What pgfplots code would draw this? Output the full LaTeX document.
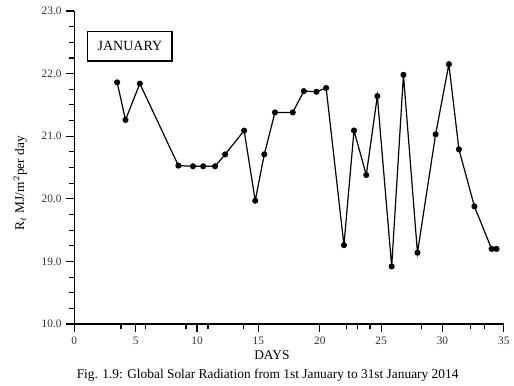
\documentclass[border=0pt]{standalone}
\usepackage{fontspec}
\setmainfont{Liberation Serif}
\usepackage{pgfplots}
\pgfplotsset{compat=1.18}
\begin{document}
\begin{tikzpicture}
\begin{axis}[
  scale only axis, width=321pt, height=234pt,
  xmin=0, xmax=35, ymin=18, ymax=23,
  axis lines=left, axis line style={-, line width=1pt},
  clip=false,
  xtick={0,5,...,35},
  ytick={18,19,20,21,22,23},
  yticklabels={10.0,19.0,20.0,21.0,22.0,23.0},
  minor xtick={3.8,5.8,9.1,10.9,13.8,22.2,23.1,24.1,28.3,32.3,33.4},
  minor y tick num=3,
  tick align=outside,
  major tick length=6pt, minor tick length=4pt,
  tick style={black, line width=0.9pt},
  /pgf/number format/assume math mode=true,
  ticklabel style={font=\fontsize{8.5}{10}\selectfont, color=black!80},
  xlabel={DAYS},
  xlabel style={font=\fontsize{10}{12}\selectfont, at={(ticklabel cs:0.46)}, yshift=2pt},
  ylabel={R$_t$ MJ/m$^2$per day},
  ylabel style={font=\fontsize{10}{12}\selectfont, at={(axis description cs:-0.126,0.45)}, anchor=center},
]
\addplot[black, line width=0.9pt, mark=*, mark size=1.8pt, mark options={fill=black}] coordinates {
(3.49,21.86) (4.17,21.26) (5.34,21.84) (8.48,20.53) (9.67,20.52) (10.5,20.52)
(11.47,20.52) (12.29,20.71) (13.84,21.09) (14.74,19.97) (15.48,20.71) (16.35,21.38)
(17.8,21.38) (18.7,21.72) (19.73,21.71) (20.52,21.77) (21.97,19.26) (22.79,21.09)
(23.79,20.38) (24.69,21.64) (25.86,18.92) (26.82,21.98) (27.96,19.14) (29.44,21.03)
(30.52,22.15) (31.34,20.79) (32.6,19.88) (34.0,19.2) (34.4,19.2)
};
\path (rel axis cs:-0.173,0) (rel axis cs:1.0,1.035);
\node[draw, line width=0.9pt, anchor=north west, minimum width=63pt, minimum height=22pt,
  font=\fontsize{10.5}{12}\selectfont] at (rel axis cs:0.03,0.936) {JANUARY};
\node[font=\fontsize{10}{12}\selectfont, anchor=center] at (rel axis cs:0.45,0) [yshift=-38pt]
  {Fig. 1.9: Global Solar Radiation from 1st January to 31st January 2014};
\end{axis}
\end{tikzpicture}
\end{document}
